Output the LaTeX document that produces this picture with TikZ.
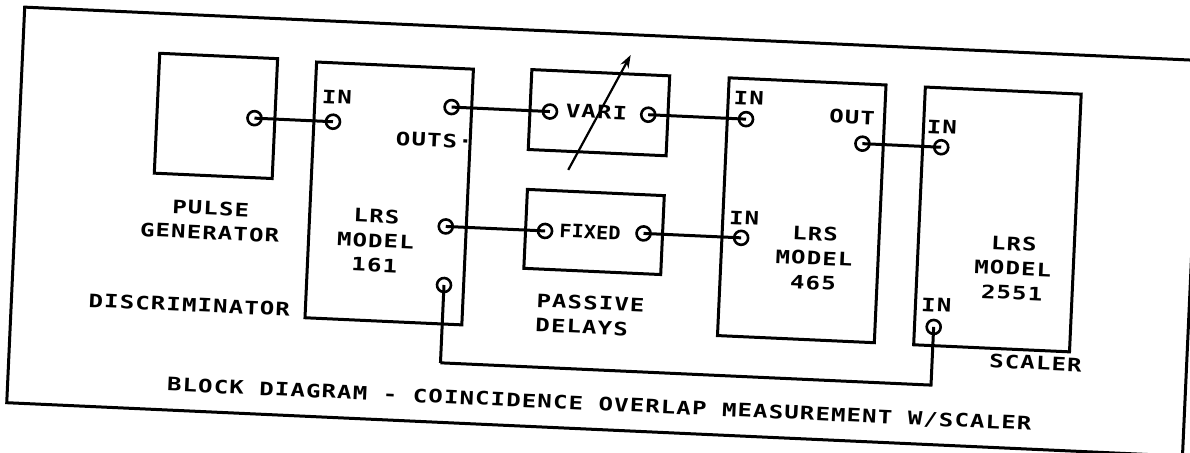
\documentclass[tikz,border=0pt]{standalone}
\usepackage{fontspec}
\newfontfamily\plotfont{DejaVu Sans Mono Bold}[FakeStretch=1.3, LetterSpace=6]
\newfontfamily\plottight{DejaVu Sans Mono Bold}[FakeStretch=1.1]
\usetikzlibrary{arrows.meta}

\begin{document}
\begin{tikzpicture}[
    x=1pt, y=1pt,
    unit/.style={rectangle, draw=black, line width=3pt, inner sep=0pt},
    port/.style={circle, draw=black, line width=2.6pt, minimum size=14pt, inner sep=0pt},
    lbl/.style={font=\plotfont\fontsize{18.5}{24.5}\selectfont, inner sep=0pt, align=center},
    wire/.style={line width=3pt},
  ]
  \useasboundingbox (0,0) rectangle (1190,-452);
  % the whole sheet is scanned a little askew
  \begin{scope}[rotate=-2.6, transform shape]
    \draw[line width=3pt] (25,-6) rectangle (1202,-402);

    % Instruments
    \node[unit, minimum width=118pt, minimum height=120pt] (pulser) at (221,-106) {};
    \node[unit, minimum width=157pt, minimum height=256pt] (disc) at (397.6,-175.6) {};
    \node[unit, minimum width=138pt, minimum height=80pt] (vari) at (603.5,-85.4) {};
    \node[unit, minimum width=137pt, minimum height=79pt] (fixed) at (604,-204.8) {};
    \node[unit, minimum width=157pt, minimum height=258pt] (coinc) at (810.5,-173.7) {};
    \node[unit, minimum width=156pt, minimum height=258pt] (scaler) at (1006.4,-174) {};

    % Connectors on the panels
    \node[port] (pulserout) at (259.6,-106.5) {};
    \node[port] (discin) at (338.2,-106.5) {};
    \node[port] (discouta) at (456,-86.5) {};
    \node[port] (discoutb) at (455.6,-206) {};
    \node[port] (discoutc) at (456.5,-264.6) {};
    \node[port] (variin) at (554.5,-86.5) {};
    \node[port] (variout) at (652.8,-85.2) {};
    \node[port] (fixedin) at (555,-206) {};
    \node[port] (fixedout) at (653.5,-204) {};
    \node[port] (coinina) at (750.7,-85.2) {};
    \node[port] (coininb) at (751.2,-204) {};
    \node[port] (coinout) at (868.1,-104.4) {};
    \node[port] (scalerina) at (947,-104.4) {};
    \node[port] (scalerinb) at (947.6,-284.3) {};

    % Cables
    \draw[wire] (pulserout.center) -- (discin.center);
    \draw[wire] (discouta.center) -- (variin.center);
    \draw[wire] (discoutb.center) -- (fixedin.center);
    \draw[wire] (variout.center) -- (coinina.center);
    \draw[wire] (fixedout.center) -- (coininb.center);
    \draw[wire] (coinout.center) -- (scalerina.center);
    \coordinate (loopcorner) at (456.5,-342.5);
    \draw[wire] (discoutc.center) |- (loopcorner) -| (scalerinb.center);

    % Variable delay arrow
    \coordinate (varitail) at (575.4,-144);
    \coordinate (varitip) at (632.6,-26.3);
    \draw[line width=2.2pt, -{Stealth[length=13pt, width=9pt]}] (varitail) -- (varitip);

    % Texts
    \node[lbl] (discinlbl) at (340.9,-81.6) {IN};
    \node[lbl] (discoutlbl) at (440.3,-120.2) {OUTS·};
    \node[lbl] (varilbl) at (601,-84.5) {VARI};
    \node[lbl, font=\plottight\fontsize{18.5}{24.5}\selectfont] (fixedlbl) at (600,-205) {FIXED};
    \node[lbl] (coininalbl) at (752.5,-63.9) {IN};
    \node[lbl] (coininblbl) at (753.3,-184) {IN};
    \node[lbl] (coinoutlbl) at (856.6,-78.2) {OUT};
    \node[lbl] (scalerinalbl) at (946.8,-84.1) {IN};
    \node[lbl] (scalerinblbl) at (949.2,-262.2) {IN};
    \node[lbl] (pulsername) at (220,-210.7) {PULSE\\GENERATOR};
    \node[lbl] (discname) at (386,-223.5) {LRS\\MODEL\\161};
    \node[lbl] (disctype) at (203,-296) {DISCRIMINATOR};
    \node[lbl, align=left, anchor=west] (delayname) at (549.5,-288) {PASSIVE\\DELAYS};
    \node[lbl] (coincname) at (825,-221) {LRS\\MODEL\\465};
    \node[lbl] (scalername) at (1024,-222) {LRS\\MODEL\\2551};
    \node[lbl] (scalertype) at (1051,-315.6) {SCALER};
    \node[lbl] (title) at (617,-377) {BLOCK DIAGRAM - COINCIDENCE OVERLAP MEASUREMENT W/SCALER};
  \end{scope}
\end{tikzpicture}
\end{document}
